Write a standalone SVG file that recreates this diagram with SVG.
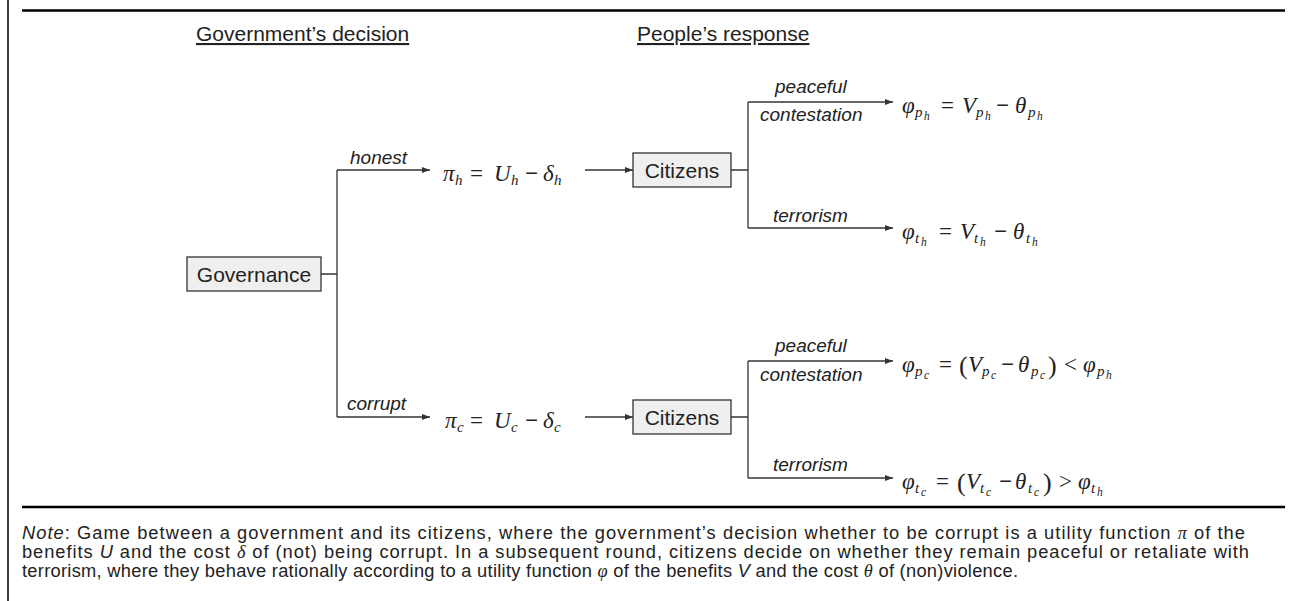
<svg xmlns="http://www.w3.org/2000/svg" width="1297" height="601" viewBox="0 0 1297 601">
<style>
.frame{stroke:#000;fill:none}
.c{stroke:#333;stroke-width:1.3;fill:none}
.box{fill:#efefef;stroke:#333;stroke-width:1.3}
.bt{font-family:"Liberation Sans",Arial,sans-serif;font-size:21px;fill:#222}
.hd{font-family:"Liberation Sans",Arial,sans-serif;font-size:21px;fill:#222;text-decoration:underline}
.lb{font-family:"Liberation Sans",Arial,sans-serif;font-size:19px;font-style:italic;fill:#222}
.m{font-family:"Liberation Serif","Times New Roman",serif;font-size:23px;fill:#222}
.i{font-style:italic}
.o{font-weight:bold}
.s{font-size:15px;font-style:italic}
.ss{font-size:11.5px;font-style:italic}
.nt{font-family:"Liberation Sans",Arial,sans-serif;font-size:18.3px;fill:#222}
.gr{font-family:"Liberation Serif","Times New Roman",serif;font-style:italic}
</style>
<defs>
<marker id="arr" markerWidth="8" markerHeight="6" refX="8" refY="3" orient="auto" markerUnits="userSpaceOnUse"><path d="M0,0 L8,3 L0,6 z" fill="#333"/></marker>
</defs>
<rect width="1297" height="601" fill="#fff"/>
<g id="frame">
<line class="frame" x1="8" y1="0" x2="8" y2="601" stroke-width="1.5"/>
<line class="frame" x1="22" y1="10.5" x2="1285" y2="10.5" stroke-width="2.5"/>
<line class="frame" x1="22" y1="507" x2="1285" y2="507" stroke-width="2.5"/>
</g>
<g id="headings">
<text class="hd" x="196" y="41">Government’s decision</text>
<text class="hd" x="637" y="41">People’s response</text>
</g>
<g id="connectors">
<path class="c" d="M321,274 H337 M337,170 V417"/>
<path class="c" d="M337,170 H430" marker-end="url(#arr)"/>
<path class="c" d="M337,417 H430" marker-end="url(#arr)"/>
<path class="c" d="M585,170 H633" marker-end="url(#arr)"/>
<path class="c" d="M731,170 H748 M748,102 V228"/>
<path class="c" d="M748,102 H893" marker-end="url(#arr)"/>
<path class="c" d="M748,228 H893" marker-end="url(#arr)"/>
<path class="c" d="M585,417 H633" marker-end="url(#arr)"/>
<path class="c" d="M731,417 H748 M748,361 V478"/>
<path class="c" d="M748,361 H893" marker-end="url(#arr)"/>
<path class="c" d="M748,478 H893" marker-end="url(#arr)"/>
</g>
<g id="labels">
<text class="lb" x="350" y="164">honest</text>
<text class="lb" x="347" y="410">corrupt</text>
<text class="lb" x="775" y="93">peaceful</text>
<text class="lb" x="760" y="121">contestation</text>
<text class="lb" x="773" y="222">terrorism</text>
<text class="lb" x="775" y="352">peaceful</text>
<text class="lb" x="760" y="381">contestation</text>
<text class="lb" x="773" y="471">terrorism</text>
</g>
<g id="governance">
<rect class="box" x="187" y="257" width="134" height="34"/>
<text class="bt" x="254" y="281.5" text-anchor="middle">Governance</text>
</g>
<g id="citizens1">
<rect class="box" x="633" y="153" width="98" height="34"/>
<text class="bt" x="682" y="177.5" text-anchor="middle">Citizens</text>
</g>
<g id="citizens2">
<rect class="box" x="633" y="400" width="98" height="34"/>
<text class="bt" x="682" y="424.5" text-anchor="middle">Citizens</text>
</g>
<g id="pi-h">
<text class="m"><tspan x="443" y="181" class="i">π</tspan><tspan x="455" y="185" class="s">h</tspan><tspan x="470" y="181">=</tspan><tspan x="494" y="181" class="i">U</tspan><tspan x="511" y="185" class="s">h</tspan><tspan x="525" y="181" class="o">−</tspan><tspan x="543" y="181" class="i">δ</tspan><tspan x="554" y="185" class="s">h</tspan></text>
</g>
<g id="pi-c">
<text class="m"><tspan x="445" y="428" class="i">π</tspan><tspan x="457" y="432" class="s">c</tspan><tspan x="470" y="428">=</tspan><tspan x="494" y="428" class="i">U</tspan><tspan x="511" y="432" class="s">c</tspan><tspan x="525" y="428" class="o">−</tspan><tspan x="543" y="428" class="i">δ</tspan><tspan x="554" y="432" class="s">c</tspan></text>
</g>
<g id="phi-ph">
<text class="m"><tspan x="902" y="113" class="i">φ</tspan><tspan x="915" y="117" class="s">p</tspan><tspan x="924" y="120" class="ss">h</tspan><tspan x="941" y="113">=</tspan><tspan x="962" y="113" class="i">V</tspan><tspan x="976" y="117" class="s">p</tspan><tspan x="985" y="120" class="ss">h</tspan><tspan x="996" y="113" class="o">−</tspan><tspan x="1015" y="113" class="i">θ</tspan><tspan x="1028" y="117" class="s">p</tspan><tspan x="1037" y="120" class="ss">h</tspan></text>
</g>
<g id="phi-th">
<text class="m"><tspan x="902" y="239" class="i">φ</tspan><tspan x="915" y="243" class="s">t</tspan><tspan x="921" y="246" class="ss">h</tspan><tspan x="939" y="239">=</tspan><tspan x="960" y="239" class="i">V</tspan><tspan x="974" y="243" class="s">t</tspan><tspan x="980" y="246" class="ss">h</tspan><tspan x="994" y="239" class="o">−</tspan><tspan x="1013" y="239" class="i">θ</tspan><tspan x="1026" y="243" class="s">t</tspan><tspan x="1032" y="246" class="ss">h</tspan></text>
</g>
<g id="phi-pc">
<text class="m"><tspan x="902" y="372" class="i">φ</tspan><tspan x="915" y="376" class="s">p</tspan><tspan x="924" y="379" class="ss">c</tspan><tspan x="939" y="372">=</tspan><tspan x="959" y="374" font-size="26">(</tspan><tspan x="968" y="372" class="i">V</tspan><tspan x="982" y="376" class="s">p</tspan><tspan x="991" y="379" class="ss">c</tspan><tspan x="1001" y="372" class="o">−</tspan><tspan x="1018" y="372" class="i">θ</tspan><tspan x="1031" y="376" class="s">p</tspan><tspan x="1040" y="379" class="ss">c</tspan><tspan x="1048" y="374" font-size="26">)</tspan><tspan x="1064" y="372">&lt;</tspan><tspan x="1083" y="372" class="i">φ</tspan><tspan x="1097" y="376" class="s">p</tspan><tspan x="1106" y="379" class="ss">h</tspan></text>
</g>
<g id="phi-tc">
<text class="m"><tspan x="902" y="489" class="i">φ</tspan><tspan x="915" y="493" class="s">t</tspan><tspan x="921" y="496" class="ss">c</tspan><tspan x="936" y="489">=</tspan><tspan x="957" y="491" font-size="26">(</tspan><tspan x="966" y="489" class="i">V</tspan><tspan x="980" y="493" class="s">t</tspan><tspan x="986" y="496" class="ss">c</tspan><tspan x="999" y="489" class="o">−</tspan><tspan x="1015" y="489" class="i">θ</tspan><tspan x="1028" y="493" class="s">t</tspan><tspan x="1034" y="496" class="ss">c</tspan><tspan x="1043" y="491" font-size="26">)</tspan><tspan x="1059" y="489">&gt;</tspan><tspan x="1078" y="489" class="i">φ</tspan><tspan x="1091" y="493" class="s">t</tspan><tspan x="1097" y="496" class="ss">h</tspan></text>
</g>
<g id="note">
<text class="nt" x="22" y="539" textLength="1223" lengthAdjust="spacing"><tspan font-style="italic">Note</tspan>: Game between a government and its citizens, where the government’s decision whether to be corrupt is a utility function <tspan class="gr">π</tspan> of the</text>
<text class="nt" x="22" y="558" textLength="1227" lengthAdjust="spacing">benefits <tspan font-style="italic">U</tspan> and the cost <tspan class="gr">δ</tspan> of (not) being corrupt. In a subsequent round, citizens decide on whether they remain peaceful or retaliate with</text>
<text class="nt" x="22" y="577" textLength="996" lengthAdjust="spacing">terrorism, where they behave rationally according to a utility function <tspan class="gr">φ</tspan> of the benefits <tspan font-style="italic">V</tspan> and the cost <tspan class="gr">θ</tspan> of (non)violence.</text>
</g>
</svg>
